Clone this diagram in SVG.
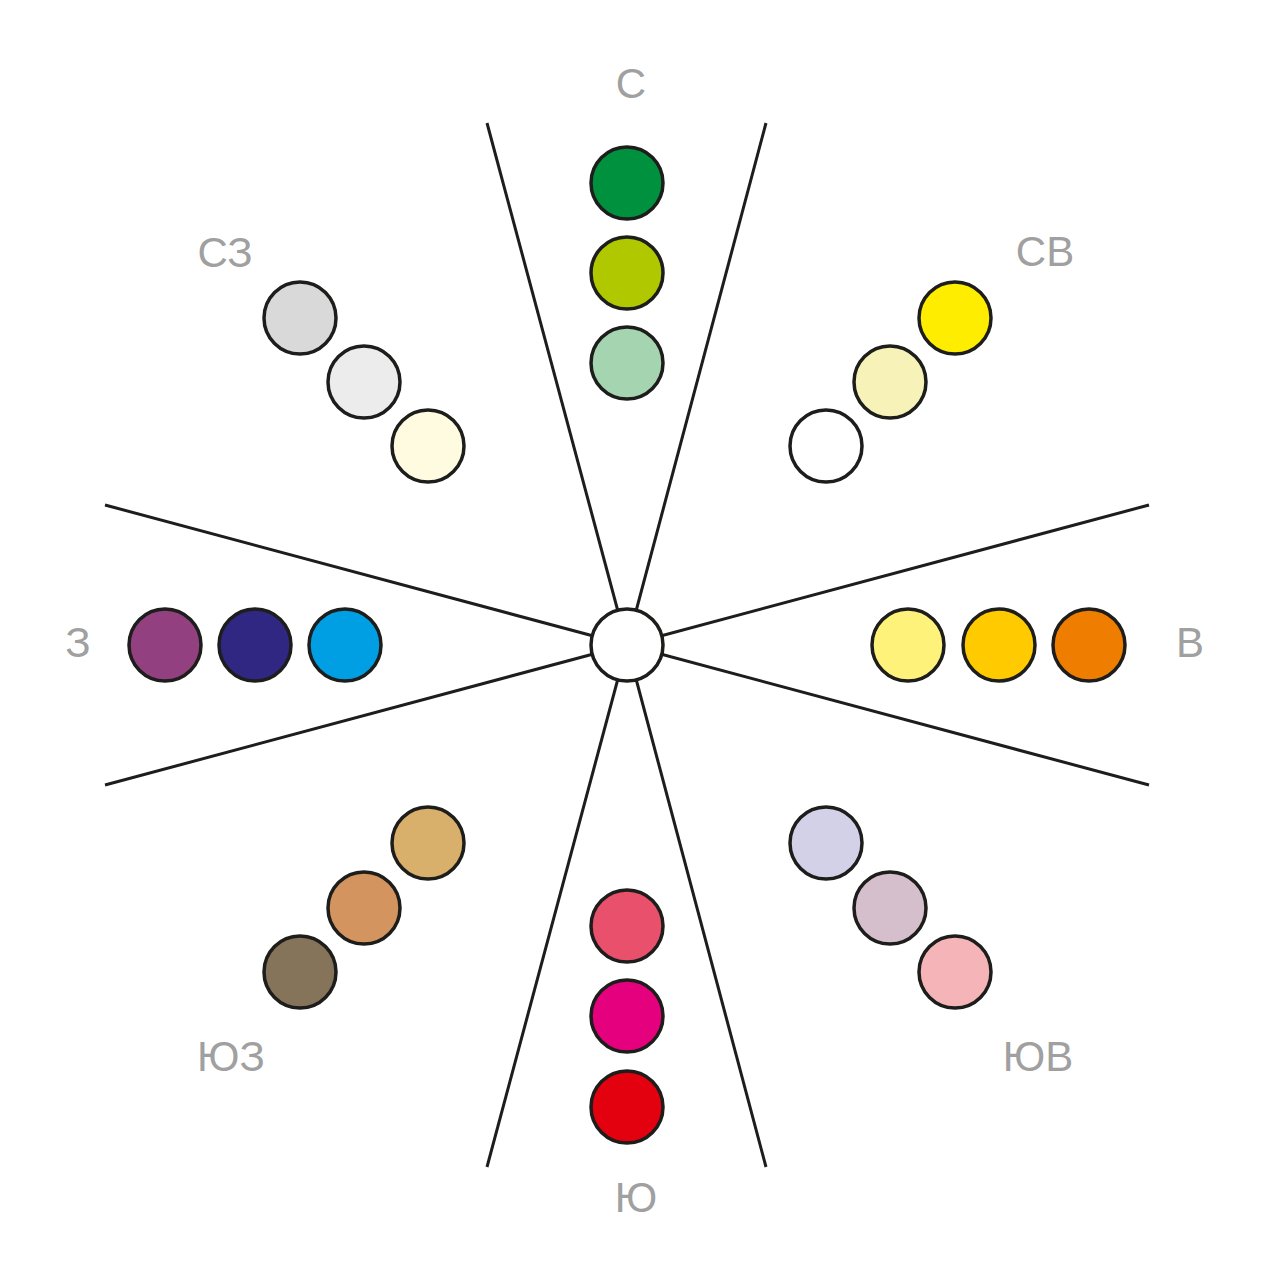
<svg xmlns="http://www.w3.org/2000/svg" width="1269" height="1280" viewBox="0 0 1269 1280">
<style>
.ln{stroke:#1d1d1b;stroke-width:3;fill:none}
.dot{stroke:#1d1d1b;stroke-width:3.5}
.lbl{font-family:"Liberation Sans",Arial,sans-serif;font-size:42px;fill:#a0a0a0;text-anchor:middle}
</style>
<rect width="1269" height="1280" fill="#ffffff"/>
<g id="connectors">
<line class="ln" x1="487" y1="123" x2="627" y2="645"/>
<line class="ln" x1="766" y1="123" x2="627" y2="645"/>
<line class="ln" x1="105" y1="505" x2="627" y2="645"/>
<line class="ln" x1="105" y1="785" x2="627" y2="645"/>
<line class="ln" x1="1149" y1="505" x2="627" y2="645"/>
<line class="ln" x1="1149" y1="785" x2="627" y2="645"/>
<line class="ln" x1="487" y1="1167" x2="627" y2="645"/>
<line class="ln" x1="766" y1="1167" x2="627" y2="645"/>
</g>
<g id="center"><circle class="dot" cx="627" cy="645" r="36" fill="#ffffff"/></g>
<g id="north">
<circle class="dot" cx="627" cy="183" r="36" fill="#00913f"/>
<circle class="dot" cx="627" cy="273" r="36" fill="#b0c800"/>
<circle class="dot" cx="627" cy="363" r="36" fill="#a5d4b0"/>
<text class="lbl" x="631" y="98">С</text>
</g>
<g id="northeast">
<circle class="dot" cx="955" cy="318" r="36" fill="#ffed00"/>
<circle class="dot" cx="890" cy="382" r="36" fill="#f6f2b8"/>
<circle class="dot" cx="826" cy="446" r="36" fill="#ffffff"/>
<text class="lbl" x="1045" y="266">СВ</text>
</g>
<g id="northwest">
<circle class="dot" cx="300" cy="318" r="36" fill="#d9d9d9"/>
<circle class="dot" cx="364" cy="382" r="36" fill="#ececec"/>
<circle class="dot" cx="428" cy="446" r="36" fill="#fefbe0"/>
<text class="lbl" x="225" y="267">СЗ</text>
</g>
<g id="west">
<circle class="dot" cx="165" cy="645" r="36" fill="#92407f"/>
<circle class="dot" cx="255" cy="645" r="36" fill="#302783"/>
<circle class="dot" cx="345" cy="645" r="36" fill="#009fe3"/>
<text class="lbl" x="78" y="657">З</text>
</g>
<g id="east">
<circle class="dot" cx="908" cy="645" r="36" fill="#fff27a"/>
<circle class="dot" cx="999" cy="645" r="36" fill="#ffcb00"/>
<circle class="dot" cx="1089" cy="645" r="36" fill="#ef7d00"/>
<text class="lbl" x="1190" y="657">В</text>
</g>
<g id="southwest">
<circle class="dot" cx="428" cy="843" r="36" fill="#d8b06c"/>
<circle class="dot" cx="364" cy="908" r="36" fill="#d39460"/>
<circle class="dot" cx="300" cy="972" r="36" fill="#85735a"/>
<text class="lbl" x="231" y="1071">ЮЗ</text>
</g>
<g id="south">
<circle class="dot" cx="627" cy="926" r="36" fill="#e8506c"/>
<circle class="dot" cx="627" cy="1016" r="36" fill="#e5007e"/>
<circle class="dot" cx="627" cy="1107" r="36" fill="#e3000f"/>
<text class="lbl" x="636" y="1212">Ю</text>
</g>
<g id="southeast">
<circle class="dot" cx="826" cy="843" r="36" fill="#d3d1e8"/>
<circle class="dot" cx="890" cy="908" r="36" fill="#d6bfcc"/>
<circle class="dot" cx="955" cy="972" r="36" fill="#f5b5b8"/>
<text class="lbl" x="1038" y="1071">ЮВ</text>
</g>
</svg>
